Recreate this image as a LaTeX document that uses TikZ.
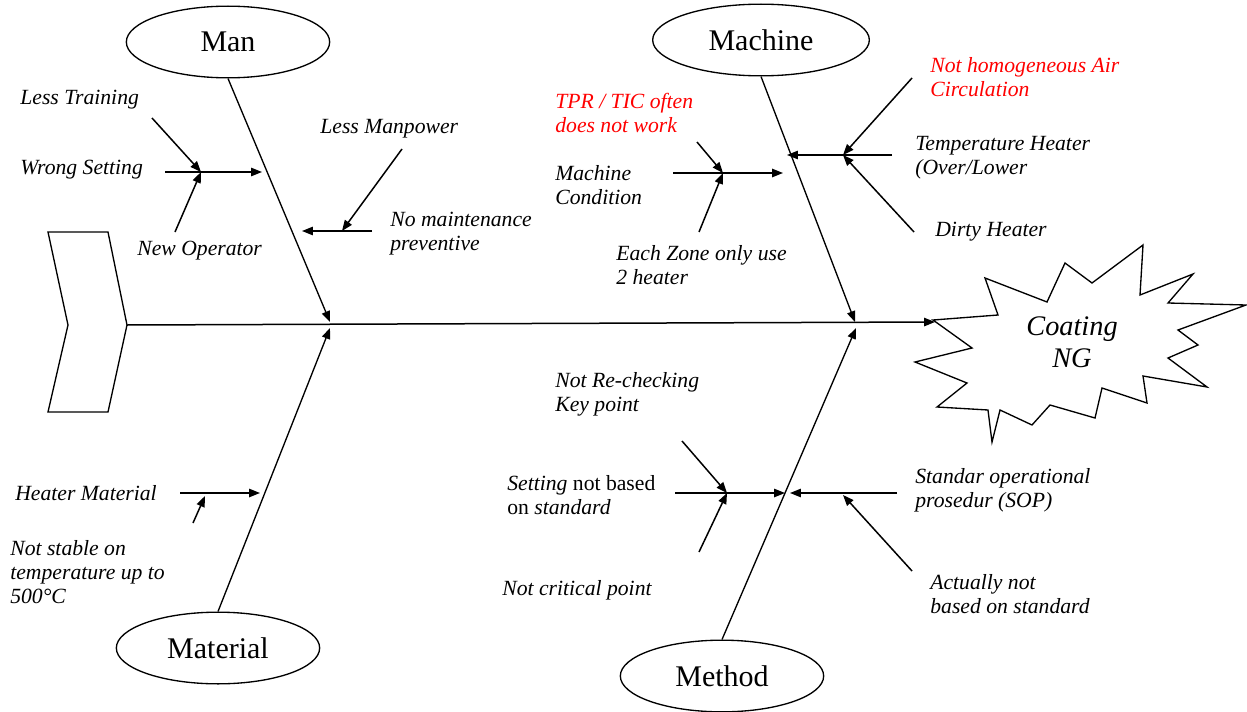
\documentclass[tikz,border=0pt]{standalone}
\usepackage{fontspec}
\setmainfont{Liberation Serif}
\usetikzlibrary{arrows.meta,positioning,shapes.geometric}

\begin{document}
\begin{tikzpicture}[
  x=0.6pt,y=-0.6pt,
  cat/.style={ellipse,draw=black,thick,minimum width=122pt,minimum height=43pt,font=\fontsize{18}{21}\selectfont},
  cause/.style={anchor=west,align=left,inner sep=0pt,font=\fontsize{13}{14.4}\selectfont\itshape},
  hot/.style={cause,text=red},
  arr/.style={-{Triangle[length=6.5pt,width=5pt]},line width=0.9pt},
  bone/.style={-{Triangle[length=6.5pt,width=5pt]},line width=0.8pt}
]
\useasboundingbox (0,0) rectangle (1247,711);

% tail, spine and head
\draw[thick] (48,232) -- (108,232) -- (127,325) -- (108,412) -- (48,412) -- (68,325) -- cycle;
\coordinate (tail) at (127,325);
\draw[thick] (933,320) -- (998,315) -- (985,278) -- (1047,302) -- (1065,263) -- (1092,283)
  -- (1143,245) -- (1140,295) -- (1193,274) -- (1168,303) -- (1246,305) -- (1178,330)
  -- (1198,345) -- (1168,358) -- (1207,387) -- (1143,376) -- (1147,403) -- (1102,388)
  -- (1095,418) -- (1050,405) -- (1032,425) -- (1000,410) -- (992,442) -- (988,410)
  -- (937,407) -- (967,383) -- (915,362) -- (972,348) -- cycle;
\node[font=\fontsize{17}{19}\selectfont\itshape,align=center] (effect) at (1072,342) {Coating\\NG};
\coordinate (head) at (935,322);
\draw[arr] (tail) -- (head);

% categories
\node[cat] (man) at (228,42) {Man};
\node[cat,minimum width=130pt] (machine) at (761,40) {Machine};
\node[cat] (material) at (218,648) {Material};
\node[cat] (method) at (722,676) {Method};
\coordinate (manJ) at (330,322); \coordinate (machJ) at (855,322);
\coordinate (matJ) at (330,328); \coordinate (methJ) at (856,328);
\draw[bone] (man.south) -- (manJ);
\draw[bone] (machine.south) -- (machJ);
\draw[bone] (material.north) -- (matJ);
\draw[bone] (method.north) -- (methJ);

% man
\node[cause] (training) at (20,100) {Less Training};
\node[cause] (wrongset) at (20,170) {Wrong Setting};
\node[cause] (newop) at (137,251) {New Operator};
\node[cause] (manpower) at (320,129) {Less Manpower};
\node[cause] (nomaint) at (390,234) {No maintenance\\preventive};
\coordinate (wsA) at (165,172); \coordinate (wsB) at (262,172); \coordinate (wsK) at (201,172);
\coordinate (ltA) at (152,118); \coordinate (noA) at (175,232);
\coordinate (nmA) at (372,231); \coordinate (nmB) at (302,231); \coordinate (nmK) at (342,231);
\coordinate (lmA) at (402,149);
\draw[arr] (wsA) -- (wsB);
\draw[arr] (ltA) -- (wsK);
\draw[arr] (noA) -- (wsK);
\draw[arr] (nmA) -- (nmB);
\draw[arr] (lmA) -- (nmK);

% machine
\node[hot] (tpr) at (555,113) {TPR / TIC often\\does not work};
\node[cause] (mcond) at (555,185) {Machine\\Condition};
\node[cause] (ezone) at (616,265) {Each Zone only use\\2 heater};
\node[hot] (nhomog) at (930,77) {Not homogeneous Air\\Circulation};
\node[cause] (tempheat) at (915,158) {Temperature Heater\\(Over/Lower};
\node[cause] (dirty) at (935,232) {Dirty Heater};
\coordinate (mcA) at (673,173); \coordinate (mcB) at (783,173); \coordinate (mcK) at (723,173);
\coordinate (tpA) at (697,142); \coordinate (ezA) at (699,232);
\coordinate (thA) at (892,155); \coordinate (thB) at (787,155); \coordinate (thK) at (843,155);
\coordinate (nhA) at (912,78); \coordinate (dhA) at (914,232);
\draw[arr] (mcA) -- (mcB);
\draw[arr] (tpA) -- (mcK);
\draw[arr] (ezA) -- (mcK);
\draw[arr] (thA) -- (thB);
\draw[arr] (nhA) -- (thK);
\draw[arr] (dhA) -- (thK);

% material
\node[cause] (heatmat) at (15,493) {Heater Material};
\node[cause] (notstable) at (10,572) {Not stable on\\temperature up to\\500°C};
\coordinate (hmA) at (180,493); \coordinate (hmB) at (260,493); \coordinate (hmK) at (205,496);
\coordinate (nsA) at (193,523);
\draw[arr] (hmA) -- (hmB);
\draw[arr] (nsA) -- (hmK);

% method
\node[cause] (recheck) at (555,394) {Not Re-checking\\Key point};
\node[cause,font=\fontsize{13}{14.4}\selectfont] (settingnb) at (507,495) {\textit{Setting} not based\\on \textit{standard}};
\node[cause] (notcrit) at (502,590) {Not critical point};
\node[cause] (sop) at (915,490) {Standar operational\\prosedur (SOP)};
\node[cause] (actually) at (930,594) {Actually not\\based on standard};
\coordinate (snA) at (675,493); \coordinate (snB) at (785,493); \coordinate (snK) at (727,493);
\coordinate (nrA) at (682,441); \coordinate (ncA) at (699,552);
\coordinate (soA) at (897,493); \coordinate (soB) at (790,493); \coordinate (soK) at (843,495);
\coordinate (anA) at (912,571);
\draw[arr] (snA) -- (snB);
\draw[arr] (nrA) -- (snK);
\draw[arr] (ncA) -- (snK);
\draw[arr] (soA) -- (soB);
\draw[arr] (anA) -- (soK);
\end{tikzpicture}
\end{document}
